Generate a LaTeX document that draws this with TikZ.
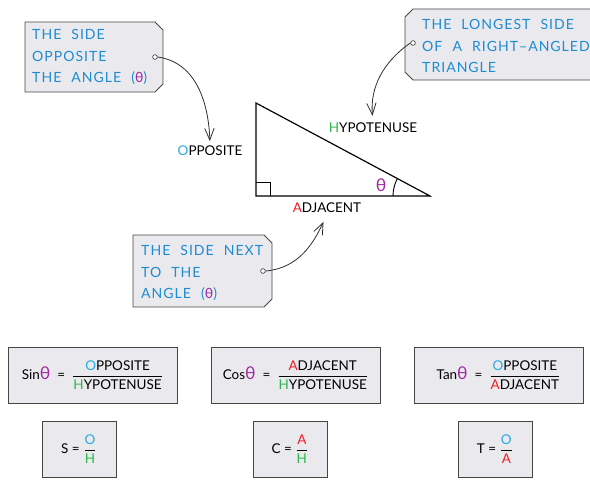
\documentclass[tikz,border=0pt]{standalone}
\usepackage{amsmath}
\usepackage{fontspec}
\setmainfont{Lato}
\newfontfamily\tagfont[LetterSpace=7,WordSpace=2.2]{Lato}
\usetikzlibrary{arrows.meta}
\definecolor{tagblue}{RGB}{30,140,210}
\definecolor{mag}{RGB}{160,40,160}
\definecolor{grn}{RGB}{43,182,73}
\definecolor{redA}{RGB}{237,28,36}
\definecolor{oblue}{RGB}{41,171,226}
\definecolor{boxfill}{RGB}{234,234,238}
\definecolor{boxline}{RGB}{70,70,70}
\newcommand{\Oc}{{\color{oblue}O}}
\newcommand{\Hc}{{\color{grn}H}}
\newcommand{\Ac}{{\color{redA}A}}
\newcommand{\thc}{{\color{mag}\fontsize{15}{15}\selectfont θ}}
\newcommand{\myfrac}[2]{$\genfrac{}{}{0.8pt}{0}{\mbox{#1}}{\mbox{#2}}$}
\begin{document}
\begin{tikzpicture}[x=0.03cm,y=0.03cm,
  tagshape/.style={fill=boxfill,draw=boxline,line width=0.8pt,line join=round},
  tagtext/.style={anchor=west,inner sep=0pt,align=left,text=tagblue,
    font=\tagfont\fontsize{12}{18.7}\selectfont},
  lbl/.style={inner sep=1pt,font=\fontsize{11.5}{13}\selectfont},
  hole/.style={circle,draw=boxline,fill=white,line width=0.6pt,inner sep=0pt,minimum size=4pt},
  pointer/.style={draw={rgb,255:red,50;green,50;blue,50},line width=0.7pt,
    -{Straight Barb[length=10pt,width=8pt]}},
  fbox/.style={draw=boxline,fill=boxfill,line width=0.8pt,inner sep=0pt,
    minimum width=5.07cm,minimum height=1.68cm,font=\fontsize{11.5}{13}\selectfont},
  sbox/.style={fbox,minimum width=2.22cm}
]
\useasboundingbox (0,0) rectangle (590,490);

% ---- tag 1
\path[tagshape] (25,468) -- (155,468) -- (163,460) -- (163,406) -- (155,398) -- (25,398) -- cycle;
\node[tagtext] (t1) at (32,433) {THE SIDE\\OPPOSITE\\THE ANGLE ({\color{mag}θ})};
\node[hole] (h1) at (155,433) {};

% ---- tag 2
\fill[boxfill] (413,481) -- (590,481) -- (590,410) -- (413,410) -- (405,418) -- (405,473) -- cycle;
\draw[boxline,line width=0.8pt,line join=round] (590,481) -- (413,481) -- (405,473) -- (405,418) -- (413,410) -- (590,410);
\node[tagtext] (t2) at (422,444) {THE LONGEST SIDE\\OF A RIGHT–ANGLED\\TRIANGLE};
\node[hole] (h2) at (413,447) {};

% ---- tag 3
\path[tagshape] (133,255) -- (264,255) -- (272,247) -- (272,191) -- (264,183) -- (133,183) -- cycle;
\node[tagtext] (t3) at (141,217) {THE SIDE NEXT\\TO THE\\ANGLE ({\color{mag}θ})};
\node[hole] (h3) at (263,219) {};

% ---- triangle
\coordinate (A) at (256,387);
\coordinate (B) at (256,294);
\coordinate (C) at (430,294);
\draw[line width=1pt,line join=miter] (A) -- (B) -- (C) -- cycle;
\draw[line width=0.8pt] (256,308) -- (270,308) -- (270,294);
\draw[line width=0.8pt] (393,294) arc[start angle=180,end angle=151.9,radius=37];
\node[lbl] (th) at (381,305) {\thc};

\node[lbl] (hyp) at (373,362) {\Hc YPOTENUSE};
\node[lbl] (opp) at (210,339) {\Oc PPOSITE};
\node[lbl] (adj) at (327,282) {\Ac DJACENT};

% ---- pointers
\draw[pointer,shorten >=3pt] (h1.east) to[out=-8,in=92] (opp.north);
\draw[pointer,shorten >=5pt] (h2.west) to[out=215,in=95] (hyp.north);
\draw[pointer,shorten >=7pt] (h3.east) to[out=5,in=245] (adj.south);

% ---- formulas
\node[fbox] (sin) at (92.5,115) {Sin\thc\ \ =\ \ \myfrac{\Oc PPOSITE}{\Hc YPOTENUSE}};
\node[fbox] (cos) at (295.5,115) {Cos\thc\ \ =\ \ \myfrac{\Ac DJACENT}{\Hc YPOTENUSE}};
\node[fbox] (tan) at (498.5,115) {Tan\thc\ \ =\ \ \myfrac{\Oc PPOSITE}{\Ac DJACENT}};

\node[sbox] (s) at (79,41) {S = \myfrac{\Oc}{\Hc}};
\node[sbox] (c) at (290,41) {C = \myfrac{\Ac}{\Hc}};
\node[sbox] (t) at (495,41) {T = \myfrac{\Oc}{\Ac}};
\end{tikzpicture}
\end{document}
